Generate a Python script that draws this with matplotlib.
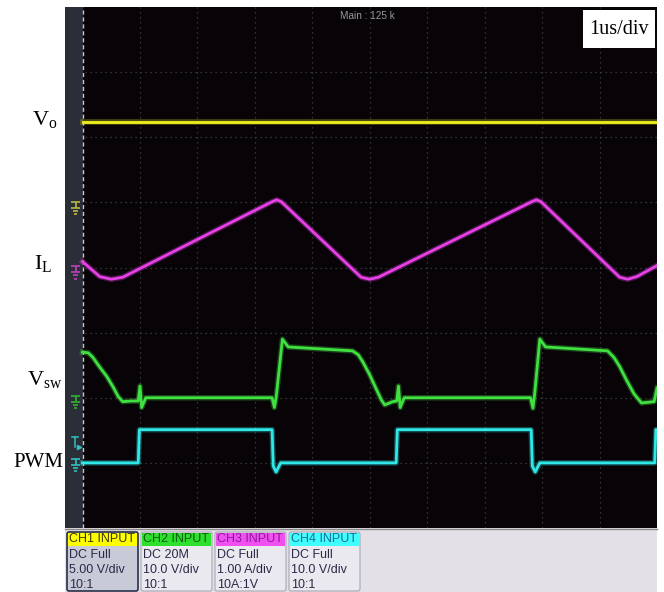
import matplotlib.pyplot as plt
from matplotlib.patches import Rectangle, FancyBboxPatch

# time in divisions (1 us/div), levels in divisions above screen bottom
vo_t = [0.0, 10.0]
vo = [6.24, 6.24]

il_t = [0.0, 0.3, 0.5, 0.7, 3.3, 3.38, 3.46, 4.85, 5.0, 5.15, 7.82, 7.9, 7.98, 9.35, 9.49, 9.65, 10.0]
il = [4.09, 3.86, 3.82, 3.85, 5.01, 5.04, 5.01, 3.85, 3.82, 3.85, 5.01, 5.04, 5.01, 3.85, 3.82, 3.86, 4.03]

vsw_t = [0.0, 0.1, 0.18, 0.30, 0.42, 0.53, 0.62, 0.70, 0.85, 0.97, 1.00, 1.03, 1.10, 3.30, 3.34, 3.37,
         3.48, 3.58, 4.70, 4.80, 4.88, 5.00, 5.12, 5.20, 5.26, 5.40, 5.47, 5.50, 5.53, 5.60, 7.80, 7.84,
         7.87, 7.96, 8.06, 9.14, 9.25, 9.35, 9.47, 9.60, 9.73, 9.95, 10.0]
vsw = [2.70, 2.69, 2.62, 2.47, 2.33, 2.17, 2.02, 1.94, 1.95, 1.95, 2.18, 1.85, 2.00, 2.00, 1.85, 2.00,
       2.90, 2.78, 2.72, 2.66, 2.55, 2.35, 2.12, 1.97, 1.89, 1.94, 1.95, 2.18, 1.85, 2.00, 2.00, 1.84,
       2.05, 2.90, 2.78, 2.72, 2.62, 2.48, 2.27, 2.06, 1.92, 1.94, 2.15]

pwm_t = [0.0, 0.97, 0.99, 3.30, 3.32, 3.37, 3.45, 5.46, 5.48, 7.81, 7.83, 7.88, 7.96, 9.96, 9.98, 10.0]
pwm = [1.0, 1.0, 1.51, 1.51, 0.95, 0.86, 1.0, 1.0, 1.51, 1.51, 0.95, 0.86, 1.0, 1.0, 1.51, 1.51]

gnd_levels = [4.92, 1.94, 3.93, 0.97]  # CH1..CH4 ground markers
trig_level = 1.31

ch_names = ["CH1 INPUT", "CH2 INPUT", "CH3 INPUT", "CH4 INPUT"]
ch_coupling = ["DC Full", "DC 20M", "DC Full", "DC Full"]
ch_scale = ["5.00 V/div", "10.0 V/div", "1.00 A/div", "10.0 V/div"]
ch_probe = ["10:1", "10:1", "10A:1V", "10:1"]

trace_colors = ["#f0f020", "#40e040", "#e640e6", "#30e8e8"]
gnd_colors = ["#b8b840", "#30b030", "#c040c0", "#30c0c0"]
head_colors = ["#ffff00", "#2ee02e", "#f050f0", "#40ffff"]
head_text = ["#3a3a00", "#0a5a0a", "#8a1a9a", "#1a6a9a"]


def ground(ax, y, color):
    x = -0.12
    w = 0.08
    kw = dict(color=color, lw=1.2, solid_capstyle="butt", zorder=4)
    ax.plot([x - w, x + w], [y + 0.09, y + 0.09], **kw)
    ax.plot([x, x], [y + 0.09, y], **kw)
    for k, s in enumerate([1.0, 0.6, 0.25]):
        ax.plot([x - w * s, x + w * s], [y - 0.05 * k, y - 0.05 * k], **kw)


def plot():
    plt.rcParams["mathtext.fontset"] = "custom"
    plt.rcParams["mathtext.rm"] = "Liberation Serif"
    fig = plt.figure(figsize=(6.64, 5.92), dpi=100)
    W, H = 664, 592

    # scope screen
    ax = fig.add_axes([65 / W, 1 - 528 / H, 592 / W, 521 / H])
    ax.set_facecolor("#070307")
    ax.set_xlim(-0.305, 10)
    ax.set_ylim(0, 8)
    ax.set_xticks(range(1, 10))
    ax.set_yticks(range(1, 8))
    ax.tick_params(length=0, labelbottom=False, labelleft=False)
    for s in ax.spines.values():
        s.set_visible(False)
    ax.set_axisbelow(True)
    ax.grid(True, color="#444444", linestyle=(0, (1, 3)), linewidth=0.9)
    ax.axvspan(-0.305, 0, color="#2a2e36", zorder=1, lw=0)
    ax.axvline(0, color="#c8c8c8", lw=1.0, linestyle=(0, (3, 2)), zorder=2)

    series = [(vo_t, vo), (vsw_t, vsw), (il_t, il), (pwm_t, pwm)]
    for (t, v), c in zip(series, trace_colors):
        ax.plot(t, v, color=c, lw=4.0, alpha=0.3, zorder=3)
        ax.plot(t, v, color=c, lw=2.0, zorder=3)

    for lvl, c in zip(gnd_levels, gnd_colors):
        ground(ax, lvl, c)
    # trigger marker
    tx = -0.13
    ax.plot([tx - 0.05, tx + 0.05], [trig_level + 0.08, trig_level + 0.08], color=gnd_colors[3], lw=1.1, zorder=4)
    ax.plot([tx, tx], [trig_level + 0.08, trig_level - 0.07], color=gnd_colors[3], lw=1.1, zorder=4)
    ax.plot([tx + 0.06], [trig_level - 0.06], marker=">", ms=3, color=gnd_colors[3], zorder=4)

    # overlay in pixel coordinates for panel and labels
    ov = fig.add_axes([0, 0, 1, 1])
    ov.set_xlim(0, W)
    ov.set_ylim(H, 0)
    ov.axis("off")
    ov.add_patch(Rectangle((65, 528), 592, 64, facecolor="#e4e0e8", edgecolor="none"))
    ov.plot([65, 657], [528.5, 528.5], color="#8a8a8a", lw=1)

    for i in range(4):
        x0 = 67 + 74 * i
        sel = i == 0
        ov.add_patch(FancyBboxPatch((x0, 532), 71, 59, boxstyle="round,pad=0,rounding_size=2",
                                    facecolor="#c8cad8" if sel else "#ebe9f0",
                                    edgecolor="#283048" if sel else "#a8a8b0", lw=1.2 if sel else 0.8))
        ov.add_patch(Rectangle((x0 + 1, 533), 69, 12.5, facecolor=head_colors[i], edgecolor="none"))
        fkw = dict(family="Liberation Sans", fontsize=9, ha="left", va="center")
        ov.text(x0 + 2, 539, ch_names[i], color=head_text[i], **fkw)
        ov.text(x0 + 2, 555, ch_coupling[i], color="#2a2a48", **fkw)
        ov.text(x0 + 2, 570, ch_scale[i], color="#2a2a48", **fkw)
        ov.text(x0 + 2, 585, ch_probe[i], color="#2a2a48", **fkw)

    ov.text(367, 16, "Main : 125 k", family="Liberation Sans", fontsize=7.2, color="#9a9a9a",
            ha="center", va="center")
    ov.add_patch(Rectangle((583, 10), 72, 38, facecolor="white", edgecolor="none"))
    ov.text(619, 30, "1us/div", family="Liberation Serif", fontsize=14.5, color="black",
            ha="center", va="center")

    lkw = dict(fontsize=16, color="black", ha="left", va="baseline", family="Liberation Serif")
    ov.text(32, 125, r"$\mathrm{V_{o}}$", **lkw)
    ov.text(34, 269, r"$\mathrm{I_{L}}$", **lkw)
    ov.text(27, 385, r"$\mathrm{V_{sw}}$", **lkw)
    ov.text(13, 467, "PWM", **dict(lkw, fontsize=15))

    fig.savefig("out.png", dpi=100, facecolor="white")


if __name__ == "__main__":
    plot()
